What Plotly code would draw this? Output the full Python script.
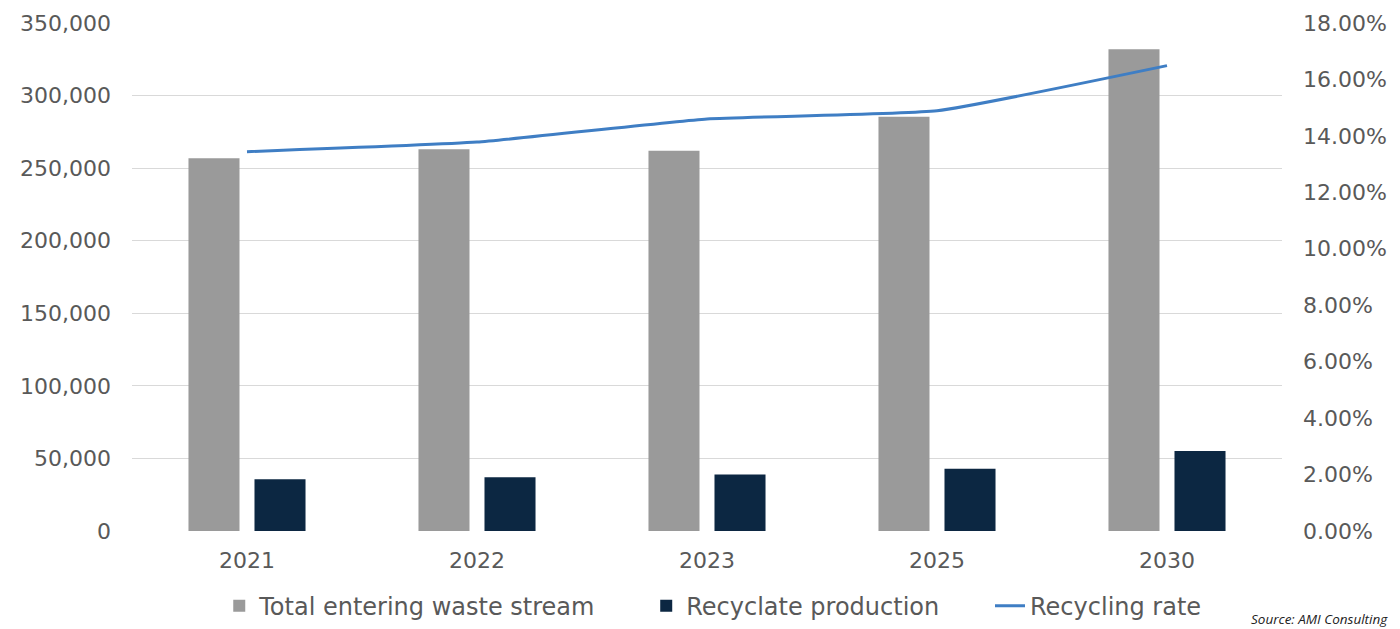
import plotly.graph_objects as go

years = ["2021", "2022", "2023", "2025", "2030"]
total_waste = [256800, 263000, 262000, 285400, 332000]
recyclate = [35600, 37000, 39000, 42900, 55100]
recycling_rate = [0.1344, 0.1378, 0.1460, 0.1489, 0.1649]

left_ticks = [0, 50000, 100000, 150000, 200000, 250000, 300000, 350000]
right_ticks = [i * 0.02 for i in range(10)]

FONT = "DejaVu Sans"
TXT = "#595959"
PAD = "\u00a0" * 6

fig = go.Figure()
fig.add_trace(go.Bar(x=years, y=total_waste, name="Total entering waste stream" + PAD,
                     marker=dict(color="#9a9a9a", line_width=0)))
fig.add_trace(go.Bar(x=years, y=recyclate, name="Recyclate production" + PAD,
                     marker=dict(color="#0c2742", line_width=0)))
fig.add_trace(go.Scatter(x=years, y=recycling_rate, name="Recycling rate", yaxis="y2",
                         mode="lines", line=dict(color="#3f7ec4", width=3, shape="spline", smoothing=0.4)))

fig.update_layout(
    width=1400, height=629,
    margin=dict(l=132, r=118, t=23, b=98, autoexpand=False),
    paper_bgcolor="white", plot_bgcolor="white",
    barmode="group", bargap=0.426, bargroupgap=0.227,
    font=dict(family=FONT, size=22, color=TXT),
    xaxis=dict(type="category", showgrid=False, showline=False, ticks="",
               tickfont=dict(size=22, color=TXT), ticklabelstandoff=14, automargin=False),
    yaxis=dict(range=[0, 350000], tickvals=left_ticks, tickformat=",d",
               showgrid=True, gridcolor="#d9d9d9", gridwidth=1, zeroline=False,
               showline=False, ticks="", ticklabelstandoff=20, automargin=False,
               tickfont=dict(size=22, color=TXT)),
    yaxis2=dict(range=[0, 0.18], tickvals=right_ticks, tickformat=".2%",
                overlaying="y", side="right", showgrid=False, zeroline=False,
                showline=False, ticks="", ticklabelstandoff=20, automargin=False,
                tickfont=dict(size=22, color=TXT)),
    legend=dict(orientation="h", x=0.505, xanchor="center", y=-0.148, yanchor="middle",
                font=dict(size=24, color=TXT), itemwidth=30, traceorder="normal"),
    showlegend=True,
)

fig.add_annotation(text="<i>Source: AMI Consulting</i>", xref="paper", yref="paper",
                   x=1.094, y=-0.173, xanchor="right", yanchor="middle", showarrow=False,
                   font=dict(family="Open Sans", size=13.5, color="#222222"))

fig.write_html("out.html")
